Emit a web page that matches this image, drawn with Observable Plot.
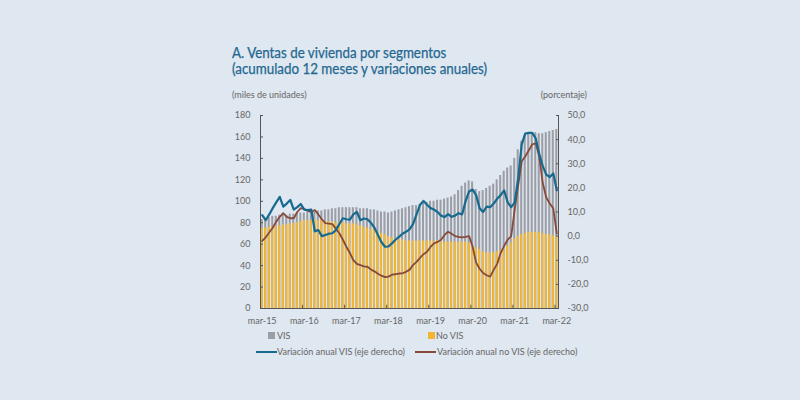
<!DOCTYPE html>
<html><head><meta charset="utf-8">
<script src="https://cdn.jsdelivr.net/npm/d3@7"></script>
<script src="https://cdn.jsdelivr.net/npm/@observablehq/plot@0.6"></script>
<style>
body{margin:0;background:#dfe7f0;}
#wrap{position:relative;width:800px;height:400px;background:#dfe7f0;font-family:Lato,"Noto Sans",sans-serif;overflow:hidden}
#wrap svg{position:absolute;left:0;top:0}
.t{position:absolute;white-space:nowrap;color:#666;font-size:9px;line-height:11px}
.title{position:absolute;left:232px;top:45px;color:#1f6790;font-size:14.6px;line-height:16px;font-weight:normal;white-space:nowrap;-webkit-text-stroke:0.25px #1f6790;transform:scaleX(0.915);transform-origin:left top}
.sw{position:absolute;width:7px;height:7px}
.ln{position:absolute;height:2px}
</style></head><body><div id="wrap"></div>
<script>
// months Mar-2015 .. Mar-2022 (index 0..84)
const xTickLabels = ["mar-15","mar-16","mar-17","mar-18","mar-19","mar-20","mar-21","mar-22"];
const leftTicks = [0,20,40,60,80,100,120,140,160,180];
const rightTicks = [-30,-20,-10,0,10,20,30,40,50];
const rightDomain = [-30,50];

// VIS sales, 12-month accumulated (thousand units)
const vis = [83,84,85,86,86,87,87,87,88,88,89,89,
 89,90,90,90,91,91,92,92,93,93,94,94,
 94,94,94,94,93,93,93,92,92,91,90,90,
 89,90,91,92,93,94,95,96,96,97,98,99,
 100,100,101,101,102,103,104,106,110,114,117,119,
 118,111,109,110,112,114,116,120,124,128,131,133,
 140,148,156,161,163,164,164,163,163,164,165,166,
 167];
// No VIS sales (thousand units)
const noVis = [75,75,76,76,77,77,78,78,79,79,80,81,
 82,82,82,83,82,82,81,81,81,80,80,80,
 79,79,79,78,77,76,75,74,73,71,70,69,
 67,66,65,64,64,63,63,63,63,63,63,63,
 63,63,63,62,62,62,62,62,62,62,62,61,
 59,57,55,53,52,52,52,53,54,56,58,61,
 65,67,69,70,71,71,71,71,70,69,69,68,
 67];
// Annual variation VIS (%)
const visVar = [8.7,6.6,9,11.6,14,16.3,12.2,13.5,15,11,12,13.3,
 11,10.8,11,2,2.5,0,0.5,1,1.2,2.5,5,7.4,
 7,6.8,9,10,6.6,7.3,7,5.5,3.5,0.5,-2.5,-4.4,
 -4.3,-3,-1.5,-0.3,1,1.8,2.8,5,9,13,14.6,13,
 11.6,11,10,8.5,7.9,9.1,8,8.5,9.5,9,14.5,18.5,
 19.3,17,11.5,10,12.2,12,13.5,15.5,17,19,14,12,
 14,24,38,42.5,42.8,42.8,40.5,34,29,25.5,24.5,26,
 19];
// Annual variation No VIS (%)
const noVisVar = [-2,-0.5,1.5,3.5,6,8,9.5,8,7.4,7.4,10,11.6,
 11.2,10.5,10,10.8,9,7,5.4,5.2,5,3,1.2,-1.5,
 -4.4,-7,-10,-11.5,-12,-12.5,-12.7,-13.8,-14.6,-15.6,-16.4,-17,
 -16.8,-16,-15.8,-15.5,-15.4,-14.8,-14,-12,-10.7,-9,-7.5,-6.5,
 -4.5,-3,-2.4,-1.5,0.5,1.8,1,0,-0.3,-0.5,-0.3,0,
 -4.4,-11,-13.5,-15.3,-16.2,-16.8,-14,-11.5,-7,-4,-1.5,0,
 11,21,31,33,35.5,38,38.5,33,22,16,13.5,11.5,
 1];

const months = d3.range(vis.length);
const tickMonths = xTickLabels.map((_, k) => k * 12);
const toLeft = p => (p - rightDomain[0]) * 180 / (rightDomain[1] - rightDomain[0]);
const fmt = v => v.toFixed(1).replace(".", ",");

const cGray = "#9c9ea5", cYellow = "#f2b633", cBlue = "#16698f", cBrown = "#87493a", cAxis = "#555";

const chart = Plot.plot({
  width: 800, height: 400,
  marginLeft: 260, marginRight: 242, marginTop: 115, marginBottom: 92,
  style: {fontFamily: "Lato, 'Noto Sans', sans-serif", fontSize: "9px", color: "#666", background: "transparent"},
  x: {type: "band", domain: months, padding: 0.42, paddingOuter: 0.2},
  y: {domain: [0, 180]},
  marks: [
    Plot.barY(months, {x: d => d, y1: 0, y2: d => vis[d], fill: cGray}),
    Plot.barY(months, {x: d => d, y1: 0, y2: d => noVis[d], fill: cYellow}),
    Plot.line(months, {x: d => d, y: d => toLeft(noVisVar[d]), stroke: cBrown, strokeWidth: 1.8, strokeLinejoin: "round"}),
    Plot.line(months, {x: d => d, y: d => toLeft(visVar[d]), stroke: cBlue, strokeWidth: 2.2, strokeLinejoin: "round"}),
    Plot.frame({anchor: "left", stroke: cAxis}),
    Plot.frame({anchor: "right", stroke: cAxis}),
    Plot.ruleY([0], {stroke: cAxis}),
    Plot.ruleX(tickMonths.slice(1), {x: d => d, y1: 0, y2: 3, dx: -1.75, stroke: cAxis}),
    Plot.axisY({anchor: "left", ticks: leftTicks, tickSize: -3, tickPadding: 13, tickFormat: d => d, label: null, stroke: cAxis}),
    Plot.axisY({anchor: "right", ticks: rightTicks.map(toLeft), tickSize: -3, tickPadding: 12,
      tickFormat: v => fmt(rightDomain[0] + v * (rightDomain[1] - rightDomain[0]) / 180), label: null, stroke: cAxis}),
    Plot.axisX({anchor: "bottom", ticks: tickMonths, tickSize: 0, tickPadding: 9,
      tickFormat: d => xTickLabels[d / 12], label: null})
  ]
});
const wrap = document.getElementById("wrap");
wrap.appendChild(chart);
wrap.insertAdjacentHTML("beforeend", `
<div class="title">A. Ventas de vivienda por segmentos<br>(acumulado 12 meses y variaciones anuales)</div>
<div class="t" style="left:232px;top:89px">(miles de unidades)</div>
<div class="t" style="right:213px;top:89px">(porcentaje)</div>
<div class="sw" style="left:268px;top:332px;background:${cGray}"></div>
<div class="t" style="left:277px;top:330px">VIS</div>
<div class="sw" style="left:428px;top:332px;background:${cYellow}"></div>
<div class="t" style="left:436px;top:330px">No VIS</div>
<div class="ln" style="left:256px;top:351px;width:21px;background:${cBlue}"></div>
<div class="t" style="left:277px;top:346px">Variación anual VIS (eje derecho)</div>
<div class="ln" style="left:415px;top:351px;width:21px;background:${cBrown}"></div>
<div class="t" style="left:437px;top:346px">Variación anual no VIS (eje derecho)</div>
`);
</script></body></html>
